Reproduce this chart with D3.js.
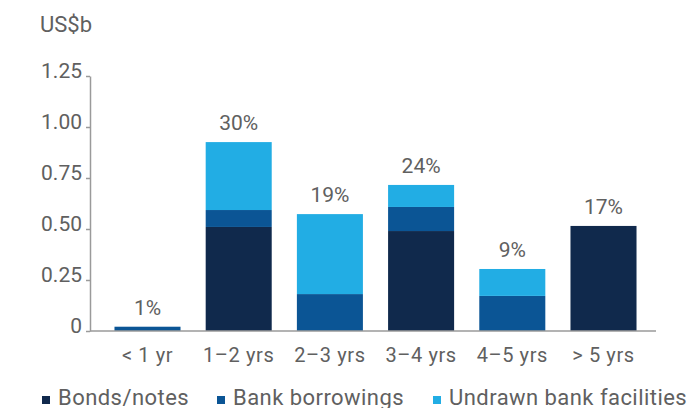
<!DOCTYPE html>
<meta charset="utf-8">
<style>
    body { margin: 0; background: #fff; }
    text { font-family: Roboto, sans-serif; fill: #606060; }
    .axis path, .axis line { fill: none; stroke: #9a9a9a; stroke-width: 1.5; }
</style>
<body>
<div id="chart"></div>
<script src="https://cdn.jsdelivr.net/npm/d3@7"></script>
<script>
    // maturity buckets
    var buckets = ['< 1 yr', '1\u20132 yrs', '2\u20133 yrs', '3\u20134 yrs', '4\u20135 yrs', '> 5 yrs'];
    var seriesNames = ['Bonds/notes', 'Bank borrowings', 'Undrawn bank facilities'];
    var bonds = [0, 0.51, 0, 0.49, 0, 0.515];
    var bank = [0.021, 0.083, 0.181, 0.118, 0.172, 0];
    var undrawn = [0, 0.333, 0.392, 0.108, 0.132, 0];
    var shares = ['1%', '30%', '19%', '24%', '9%', '17%'];
    var yTicks = [0, 0.25, 0.5, 0.75, 1.0, 1.25];
    var colors = ['#10294c', '#0b5595', '#22ade4'];

    var W = 694, H = 408;
    var svg = d3.select('#chart').append('svg')
        .attr('width', W).attr('height', H);

    var y = d3.scaleLinear().domain([0, 1.25]).range([331, 76]);
    var x = d3.scaleBand().domain(buckets)
        .range([101.9, 649.1])
        .paddingInner(0.276)
        .paddingOuter(0.138);

    // stack the data
    var rows = buckets.map(function (b, i) {
        return { bucket: b, s0: bonds[i], s1: bank[i], s2: undrawn[i] };
    });
    var stack = d3.stack().keys(['s0', 's1', 's2'])(rows);

    svg.selectAll('g.layer')
        .data(stack)
        .enter().append('g')
        .attr('class', 'layer')
        .attr('fill', function (d, i) { return colors[i]; })
        .selectAll('rect')
        .data(function (d) { return d; })
        .enter().append('rect')
        .attr('x', function (d) { return x(d.data.bucket); })
        .attr('width', x.bandwidth())
        .attr('y', function (d) { return y(d[1]); })
        .attr('height', function (d) { return y(d[0]) - y(d[1]); });

    // y axis
    var yAxis = svg.append('g')
        .attr('class', 'axis')
        .attr('transform', 'translate(90,0)')
        .call(d3.axisLeft(y).tickValues(yTicks).tickSize(4).tickSizeOuter(0)
            .tickFormat(function (d) { return d === 0 ? '0' : d3.format('.2f')(d); }));
    yAxis.selectAll('text')
        .attr('font-size', '21px')
        .attr('font-family', 'Roboto, sans-serif')
        .style('fill', '#606060')
        .attr('x', -8)
        .attr('dy', '0.05em');

    // x axis
    var xAxis = svg.append('g')
        .attr('class', 'axis')
        .attr('transform', 'translate(0,331)');
    xAxis.append('line')
        .attr('x1', 90).attr('x2', 656)
        .attr('y1', 0).attr('y2', 0);
    xAxis.selectAll('text')
        .data(buckets)
        .enter().append('text')
        .attr('x', function (d) { return x(d) + x.bandwidth() / 2; })
        .attr('y', 31)
        .attr('text-anchor', 'middle')
        .attr('font-size', '20px')
        .attr('letter-spacing', '0.6px')
        .text(function (d) { return d; });

    // totals (share) labels
    svg.selectAll('text.share')
        .data(rows)
        .enter().append('text')
        .attr('class', 'share')
        .attr('x', function (d) { return x(d.bucket) + x.bandwidth() / 2; })
        .attr('y', function (d) { return y(d.s0 + d.s1 + d.s2) - 12; })
        .attr('text-anchor', 'middle')
        .attr('font-size', '21px')
        .text(function (d, i) { return shares[i]; });

    // unit label
    svg.append('text')
        .attr('x', 40).attr('y', 31.5)
        .attr('font-size', '22px')
        .text('US$b');

    // legend
    var legendX = [42, 217, 433];
    var legend = svg.selectAll('g.legend')
        .data(seriesNames)
        .enter().append('g')
        .attr('class', 'legend')
        .attr('transform', function (d, i) { return 'translate(' + legendX[i] + ',396)'; });
    legend.append('rect')
        .attr('width', 8).attr('height', 8)
        .attr('fill', function (d, i) { return colors[i]; });
    legend.append('text')
        .attr('x', 16).attr('y', 9)
        .attr('font-size', '22px')
        .attr('letter-spacing', '0.45px')
        .text(function (d) { return d; });
</script>
</body>
